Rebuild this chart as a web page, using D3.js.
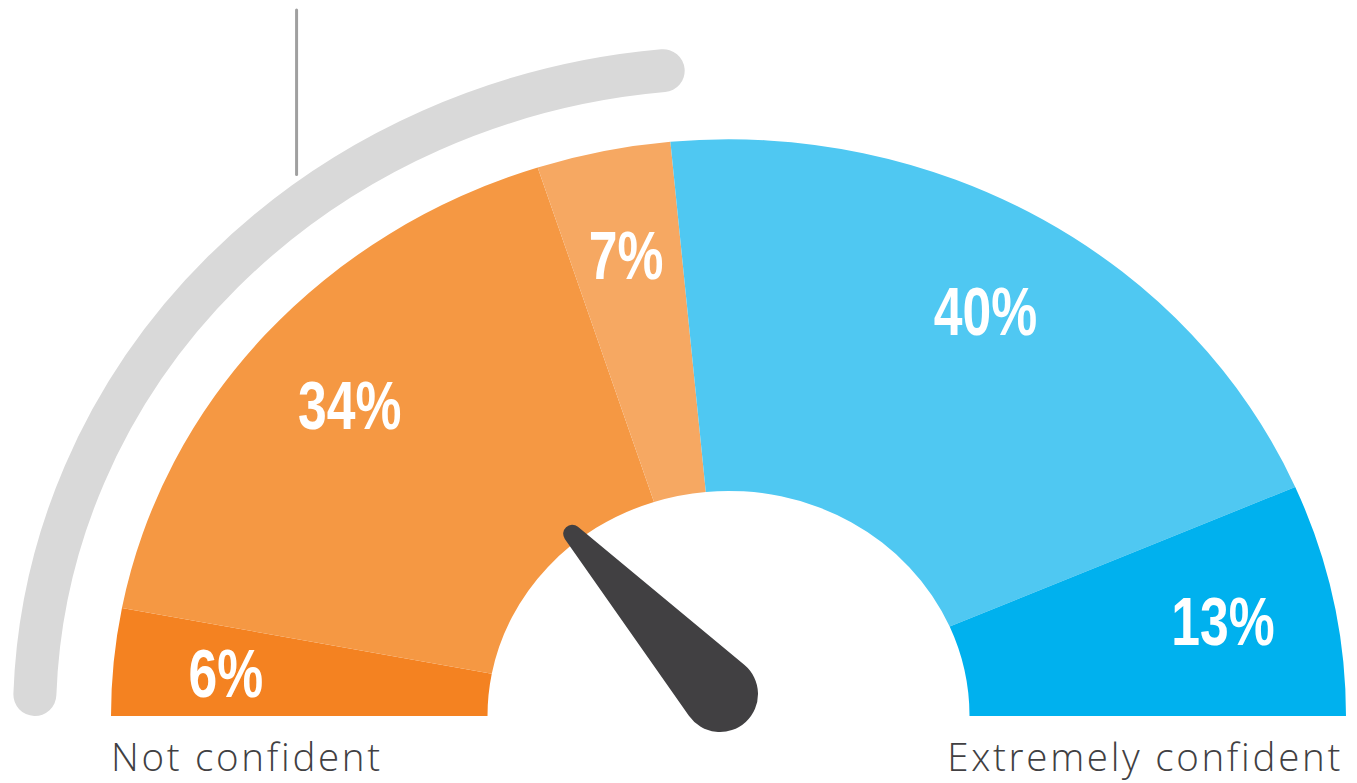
<!DOCTYPE html>
<html>
<head>
<meta charset="utf-8">
<script src="https://cdn.jsdelivr.net/npm/d3@7"></script>
<style>
  html, body { margin: 0; padding: 0; background: #fff; }
  svg { display: block; }
</style>
</head>
<body>
<svg id="chart" width="1357" height="783"></svg>
<script>
// Confidence gauge

var levels = [1, 2, 3, 4, 5];
var percentValues = [6, 34, 7, 40, 13];
var segmentColors = ["#f48221", "#f59843", "#f6a862", "#4fc8f2", "#00b1ee"];
var scaleLabels = ["Not confident", "Extremely confident"];
var greyBandValue = 47;   // share on the "not confident" side (6 + 34 + 7)
var needleValue = 28.5;   // needle reading on the 0-100 gauge

var width = 1357, height = 783;
var cx = 728.5, cy = 716;
var ky = 0.934;           // the gauge is squashed a little vertically
var innerR = 241, outerR = 617.5;
var greyR = 694, greyW = 43;
var labelR = 505;

var svg = d3.select("#chart");

// gauge value -> d3 arc angle (0 = 12 o'clock)
var angle = d3.scaleLinear().domain([0, 100]).range([-Math.PI / 2, Math.PI / 2]);

// point on the squashed circle for a given value and radius
var polar = function (v, r) {
  var a = angle(v) - Math.PI / 2;
  return { x: cx + r * Math.cos(a), y: cy + ky * r * Math.sin(a) };
};

///////////////////////////////////////////////////////////////////////////////
// Grey band

var greyStart = 100 * Math.asin(greyW / 2 / (ky * greyR)) / Math.PI;
var gp = d3.path();
gp.arc(0, 0, greyR, angle(greyStart) - Math.PI / 2, angle(greyBandValue) - Math.PI / 2, false);

svg.append("path")
  .attr("transform", "translate(" + cx + "," + cy + ") scale(1," + ky + ")")
  .attr("d", gp.toString())
  .attr("fill", "none")
  .attr("stroke", "#d9d9d9")
  .attr("stroke-width", greyW)
  .attr("stroke-linecap", "round")
  .attr("vector-effect", "non-scaling-stroke");

// marker line above the band
var mark = polar(needleValue, greyR);
svg.append("line")
  .attr("x1", mark.x + 2).attr("x2", mark.x + 2)
  .attr("y1", 10)
  .attr("y2", polar(needleValue, greyR + greyW / 2).y - 20)
  .attr("stroke", "#a0a0a0")
  .attr("stroke-width", 3)
  .attr("stroke-linecap", "round");

///////////////////////////////////////////////////////////////////////////////
// Segments

var pie = d3.pie()
  .sort(null)
  .value(function (d) { return d.value; })
  .startAngle(angle(0))
  .endAngle(angle(100));

var data = levels.map(function (l, i) {
  return { level: l, value: percentValues[i], color: segmentColors[i] };
});
var arcs = pie(data);

var arc = d3.arc().innerRadius(innerR).outerRadius(outerR);

svg.append("g")
  .attr("transform", "translate(" + cx + "," + cy + ") scale(1," + ky + ")")
  .selectAll("path")
  .data(arcs)
  .enter().append("path")
  .attr("d", arc)
  .attr("fill", function (d) { return d.data.color; });

// percentage labels (condensed look)
var cum = 0;
svg.append("g").selectAll("text")
  .data(arcs)
  .enter().append("text")
  .each(function (d) {
    var mid = cum + d.data.value / 2;
    cum += d.data.value;
    var p = polar(mid, labelR);
    d3.select(this)
      .attr("transform", "translate(" + p.x + "," + (p.y + 25) + ") scale(0.76,1)");
  })
  .attr("text-anchor", "middle")
  .attr("font-family", "'Liberation Sans', Arial, sans-serif")
  .attr("font-weight", "bold")
  .attr("font-size", 68)
  .attr("fill", "#fff")
  .text(function (d) { return d.data.value + "%"; });

///////////////////////////////////////////////////////////////////////////////
// Needle

var pivot = { x: cx - 8.5, y: cy - 22 };
var tip = polar(needleValue, 250);
var baseR = 38, tipR = 9;
var len = Math.hypot(tip.x - pivot.x, tip.y - pivot.y);
var rot = Math.atan2(tip.y - pivot.y, tip.x - pivot.x) * 180 / Math.PI;
var ca = (baseR - tipR) / len, sa = Math.sqrt(1 - ca * ca);

var np = d3.path();
np.moveTo(baseR * ca, -baseR * sa);
np.lineTo(len + tipR * ca, -tipR * sa);
np.arc(len, 0, tipR, Math.atan2(-sa, ca), Math.atan2(sa, ca), false);
np.lineTo(baseR * ca, baseR * sa);
np.arc(0, 0, baseR, Math.atan2(sa, ca), Math.atan2(-sa, ca) + 2 * Math.PI, false);
np.closePath();

svg.append("path")
  .attr("transform", "translate(" + pivot.x + "," + pivot.y + ") rotate(" + rot + ")")
  .attr("d", np.toString())
  .attr("fill", "#414042");

///////////////////////////////////////////////////////////////////////////////
// End labels

svg.selectAll("text.end")
  .data(scaleLabels)
  .enter().append("text")
  .attr("class", "end")
  .attr("x", function (d, i) { return i === 0 ? cx - outerR : cx + outerR - 3; })
  .attr("y", 771)
  .attr("text-anchor", function (d, i) { return i === 0 ? "start" : "end"; })
  .attr("font-family", "'Open Sans', sans-serif")
  .attr("font-weight", 300)
  .attr("font-size", 38.5)
  .attr("letter-spacing", 2.7)
  .attr("fill", "#414042")
  .text(function (d) { return d; });
</script>
</body>
</html>
